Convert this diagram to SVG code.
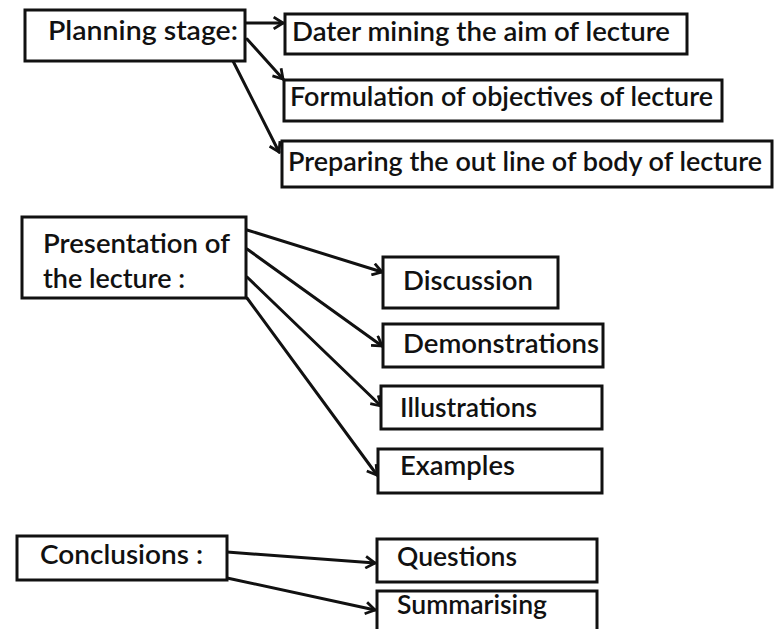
<svg xmlns="http://www.w3.org/2000/svg" width="778" height="629" viewBox="0 0 778 629">
  <defs>
    <style>
      .box { fill: #ffffff; stroke: #111111; stroke-width: 3; }
      .lbl { font-family: Lato, "Open Sans", "DejaVu Sans", sans-serif; font-size: 26px; font-weight: 600; fill: #111111; }
      .edge { fill: none; stroke: #111111; stroke-width: 3; stroke-linecap: round; }
    </style>
    <marker id="headOpen" viewBox="0 0 12 12" refX="10" refY="6" markerWidth="14" markerHeight="14" orient="auto" markerUnits="userSpaceOnUse">
      <path d="M2,1 L10,6 L2,11" fill="none" stroke="#111111" stroke-width="2.4" stroke-linejoin="miter"/>
    </marker>
  </defs>
  <rect width="778" height="629" fill="#ffffff"/>

  <!-- connectors -->
  <g id="connectors">
    <path class="edge" d="M245,23 L283,23" marker-end="url(#headOpen)"/>
    <path class="edge" d="M247,39 L283,79" marker-end="url(#headOpen)"/>
    <path class="edge" d="M233,61 L279,152" marker-end="url(#headOpen)"/>

    <path class="edge" d="M247,230 L382,272" marker-end="url(#headOpen)"/>
    <path class="edge" d="M247,249 L382,346" marker-end="url(#headOpen)"/>
    <path class="edge" d="M247,277 L381,406" marker-end="url(#headOpen)"/>
    <path class="edge" d="M247,298 L377,475" marker-end="url(#headOpen)"/>

    <path class="edge" d="M227,552 L375,563" marker-end="url(#headOpen)"/>
    <path class="edge" d="M227,578 L375,610" marker-end="url(#headOpen)"/>
  </g>

  <!-- planning stage -->
  <g id="planning">
    <rect class="box" x="25" y="10" width="220" height="51"/>
    <text class="lbl" x="48" y="40" textLength="190" lengthAdjust="spacingAndGlyphs">Planning stage:</text>
  </g>
  <g id="aim">
    <rect class="box" x="285" y="14" width="402" height="40"/>
    <text class="lbl" x="292" y="41" textLength="378" lengthAdjust="spacingAndGlyphs">Dater mining the aim of lecture</text>
  </g>
  <g id="objectives">
    <rect class="box" x="284" y="80" width="438" height="41"/>
    <text class="lbl" x="290" y="106" textLength="423" lengthAdjust="spacingAndGlyphs">Formulation of objectives of lecture</text>
  </g>
  <g id="outline">
    <rect class="box" x="282" y="141" width="490" height="46"/>
    <text class="lbl" x="288" y="171" textLength="474" lengthAdjust="spacingAndGlyphs">Preparing the out line of body of lecture</text>
  </g>

  <!-- presentation -->
  <g id="presentation">
    <rect class="box" x="22" y="217" width="224" height="81"/>
    <text class="lbl" x="43" y="253" textLength="187" lengthAdjust="spacingAndGlyphs">Presentation of</text>
    <text class="lbl" x="43" y="288" textLength="142" lengthAdjust="spacingAndGlyphs">the lecture :</text>
  </g>
  <g id="discussion">
    <rect class="box" x="383" y="257" width="175" height="51"/>
    <text class="lbl" x="403" y="290" textLength="130" lengthAdjust="spacingAndGlyphs">Discussion</text>
  </g>
  <g id="demonstrations">
    <rect class="box" x="383" y="324" width="220" height="43"/>
    <text class="lbl" x="403" y="353" textLength="196" lengthAdjust="spacingAndGlyphs">Demonstrations</text>
  </g>
  <g id="illustrations">
    <rect class="box" x="381" y="386" width="221" height="43"/>
    <text class="lbl" x="400" y="417" textLength="137" lengthAdjust="spacingAndGlyphs">Illustrations</text>
  </g>
  <g id="examples">
    <rect class="box" x="378" y="449" width="224" height="44"/>
    <text class="lbl" x="400" y="475" textLength="115" lengthAdjust="spacingAndGlyphs">Examples</text>
  </g>

  <!-- conclusions -->
  <g id="conclusions">
    <rect class="box" x="17" y="536" width="210" height="44"/>
    <text class="lbl" x="40" y="564" textLength="163" lengthAdjust="spacingAndGlyphs">Conclusions :</text>
  </g>
  <g id="questions">
    <rect class="box" x="377" y="539" width="220" height="43"/>
    <text class="lbl" x="397" y="566" textLength="120" lengthAdjust="spacingAndGlyphs">Questions</text>
  </g>
  <g id="summarising">
    <rect class="box" x="377" y="591" width="220" height="42"/>
    <text class="lbl" x="397" y="614" textLength="150" lengthAdjust="spacingAndGlyphs">Summarising</text>
  </g>
</svg>
